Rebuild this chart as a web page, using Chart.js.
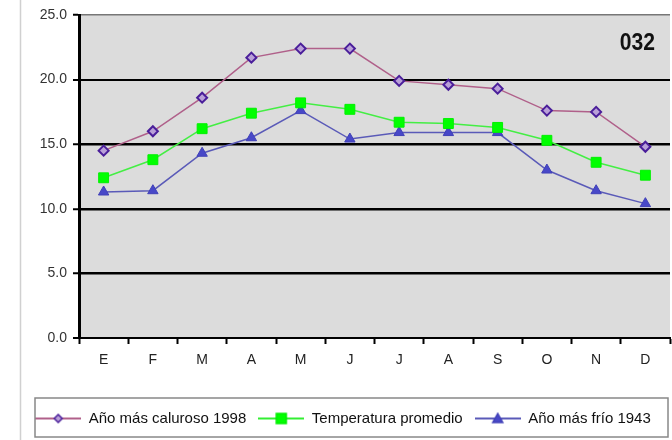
<!DOCTYPE html>
<html>
<head>
<meta charset="utf-8">
<script src="https://cdn.jsdelivr.net/npm/chart.js@4/dist/chart.umd.min.js"></script>
<style>
  body { margin: 0; background: #fff; }
  #wrap { width: 672px; height: 440px; }
</style>
</head>
<body>
<div id="wrap"><canvas id="myChart" width="672" height="440"></canvas></div>
<script>
let meses = ["E","F","M","A","M","J","J","A","S","O","N","D"];
let caluroso = [14.5,16.0,18.6,21.7,22.4,22.4,19.9,19.6,19.3,17.6,17.5,14.8];
let promedio = [12.4,13.8,16.2,17.4,18.2,17.7,16.7,16.6,16.3,15.3,13.6,12.6];
let frio = [11.3,11.4,14.3,15.5,17.6,15.4,15.9,15.9,15.9,13.0,11.4,10.4];
let yTicks = [0,5,10,15,20,25];
let nombres = ["Año más caluroso 1998","Temperatura promedio","Año más frío 1943"];

// little canvases for the legend: line with the marker on it
function legendIcon(lineColor, kind, fill, stroke) {
  let c = document.createElement("canvas");
  c.width = 46; c.height = 14;
  let g = c.getContext("2d");
  g.strokeStyle = lineColor; g.lineWidth = 2;
  g.beginPath(); g.moveTo(0,7); g.lineTo(46,7); g.stroke();
  g.fillStyle = fill; g.strokeStyle = stroke; g.lineWidth = 1.5;
  g.beginPath();
  if (kind == "diamond") {
    g.moveTo(23,3); g.lineTo(27,7); g.lineTo(23,11); g.lineTo(19,7); g.closePath();
  } else if (kind == "square") {
    g.rect(18,2,10,10);
  } else {
    g.moveTo(23,2); g.lineTo(28,11); g.lineTo(18,11); g.closePath();
  }
  g.fill(); g.stroke();
  return c;
}
let icons = [
  legendIcon("#b0608a","diamond","#b9a0d8","#4a1e9a"),
  legendIcon("#33ee33","square","#00ff00","#00ee00"),
  legendIcon("#5a5ab8","triangle","#4848c8","#4040b8")
];

const fondo = {
  id: "fondo",
  beforeDraw(chart) {
    let c = chart.ctx, a = chart.chartArea;
    c.save();
    c.fillStyle = "#dcdcdc";
    c.fillRect(a.left, a.top, a.right - a.left, a.bottom - a.top);
    c.strokeStyle = "#d0d0d0"; c.lineWidth = 1.5;
    c.beginPath(); c.moveTo(20.5, 0); c.lineTo(20.5, 440); c.stroke();
    c.restore();
  },
  afterDraw(chart) {
    let c = chart.ctx, a = chart.chartArea;
    c.save();
    c.fillStyle = "#111";
    c.translate(a.right - 15, a.top + 28);
    c.scale(0.88, 1);
    c.font = "bold 24px 'Liberation Sans', Arial, sans-serif";
    c.textAlign = "right"; c.textBaseline = "middle";
    c.fillText("032", 0, 0);
    c.restore();
    // legend frame
    c.save();
    c.strokeStyle = "#888"; c.lineWidth = 1.5;
    c.strokeRect(35, 398, 633, 39);
    c.restore();
  }
};

new Chart(document.getElementById("myChart"), {
  type: "line",
  data: {
    labels: meses,
    datasets: [{
      label: nombres[0],
      data: caluroso,
      borderColor: "#b0608a",
      borderWidth: 1.5,
      pointStyle: "rectRot",
      pointRadius: 5,
      pointBackgroundColor: "#b9a0d8",
      pointBorderColor: "#4a1e9a",
      pointBorderWidth: 2,
      tension: 0
    }, {
      label: nombres[1],
      data: promedio,
      borderColor: "#44ee44",
      borderWidth: 1.5,
      pointStyle: "rect",
      pointRadius: 7,
      pointBackgroundColor: "#00ff00",
      pointBorderColor: "#00f000",
      pointBorderWidth: 1,
      tension: 0
    }, {
      label: nombres[2],
      data: frio,
      borderColor: "#5a5ab8",
      borderWidth: 1.5,
      pointStyle: "triangle",
      pointRadius: 6,
      pointBackgroundColor: "#4848c8",
      pointBorderColor: "#4040b8",
      pointBorderWidth: 1,
      tension: 0
    }]
  },
  options: {
    responsive: false,
    animation: false,
    layout: { autoPadding: false, padding: { left: 16, right: 2, top: 15, bottom: 4 } },
    plugins: {
      tooltip: { enabled: false },
      legend: {
        position: "bottom",
        title: { display: true, text: "", font: { size: 1 }, padding: { top: 0, bottom: 21 } },
        labels: {
          usePointStyle: true,
          pointStyleWidth: 46,
          boxHeight: 14,
          padding: 12,
          color: "#111",
          font: { family: "'Liberation Sans', Arial, sans-serif", size: 15 },
          generateLabels(chart) {
            return chart.data.datasets.map((d, i) => ({
              text: d.label,
              fontColor: "#111",
              pointStyle: icons[i],
              fillStyle: "transparent",
              strokeStyle: "transparent",
              lineWidth: 0,
              hidden: false,
              datasetIndex: i
            }));
          }
        }
      }
    },
    scales: {
      x: {
        offset: true,
        afterFit(scale) { scale.paddingLeft = 0; scale.paddingRight = 0; },
        grid: {
          offset: true,
          drawOnChartArea: false,
          drawTicks: true,
          tickLength: 6,
          tickColor: "#000",
          tickWidth: 2
        },
        border: { color: "#000", width: 2 },
        ticks: {
          color: "#222",
          padding: 8,
          font: { family: "'Liberation Sans', Arial, sans-serif", size: 14 }
        }
      },
      y: {
        min: 0,
        max: 25,
        afterBuildTicks(scale) { scale.ticks = yTicks.map(v => ({ value: v })); },
        afterFit(scale) { scale.width = 63; },
        grid: {
          color(ctx) { return ctx.tick.value == 25 ? "#777" : "#000"; },
          lineWidth(ctx) {
            let v = ctx.tick.value;
            if (v == 0) return 0;
            if (v == 25) return 1.5;
            if (v == 20) return 2;
            return 2.5;
          },
          tickLength: 6,
          tickColor: "#000",
          tickWidth: 2
        },
        border: { color: "#000", width: 3 },
        ticks: {
          color: "#333",
          padding: 6,
          font: { family: "'Liberation Sans', Arial, sans-serif", size: 14 },
          callback: v => v.toFixed(1)
        }
      }
    }
  },
  plugins: [fondo]
});
</script>
</body>
</html>
